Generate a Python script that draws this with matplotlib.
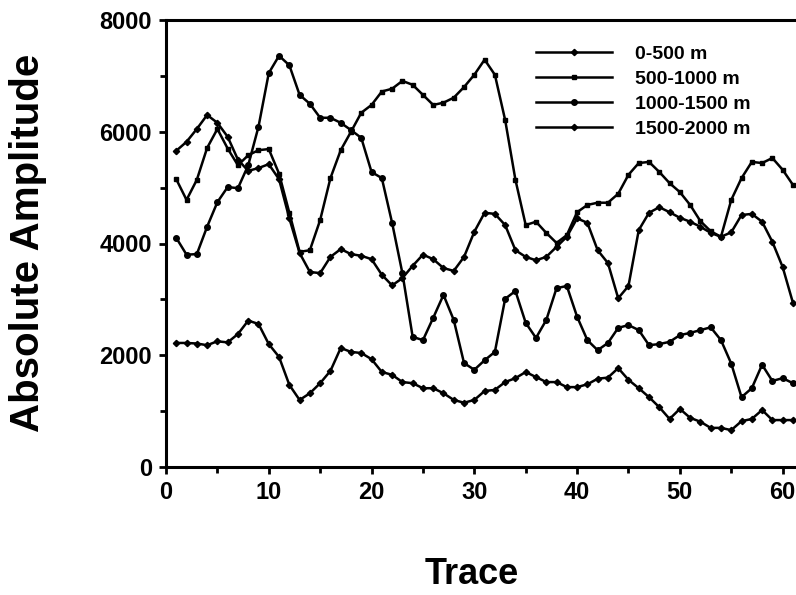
import matplotlib
matplotlib.use("Agg")
import matplotlib.pyplot as plt
from matplotlib.ticker import MultipleLocator

plt.rcParams['font.family'] = ['Liberation Sans', 'DejaVu Sans']
plt.rcParams['font.weight'] = 'bold'

# trace numbers
trace = list(range(1, 62))

# absolute amplitude per depth window
amp_0_500 = [5660, 5820, 6050, 6300, 6160, 5910, 5500, 5300, 5350, 5420,
             5150, 4450, 3830, 3490, 3470, 3760, 3900, 3810, 3780, 3720,
             3440, 3250, 3380, 3600, 3800, 3720, 3560, 3510, 3760, 4210,
             4550, 4530, 4330, 3880, 3760, 3700, 3760, 3940, 4120, 4450,
             4370, 3880, 3650, 3020, 3240, 4240, 4550, 4650, 4560, 4460,
             4390, 4300, 4190, 4120, 4200, 4510, 4530, 4390, 4030, 3580,
             2940]
amp_500_1000 = [5150, 4780, 5140, 5710, 6050, 5700, 5400, 5580, 5670, 5690,
                5250, 4550, 3850, 3880, 4420, 5170, 5670, 6000, 6340, 6480,
                6720, 6770, 6910, 6840, 6660, 6480, 6520, 6610, 6800, 7020,
                7290, 7020, 6210, 5140, 4330, 4390, 4190, 4010, 4150, 4560,
                4690, 4730, 4730, 4890, 5230, 5440, 5460, 5280, 5080, 4920,
                4690, 4400, 4220, 4120, 4780, 5170, 5460, 5440, 5530, 5320,
                5050]
amp_1000_1500 = [4100, 3800, 3810, 4300, 4740, 5010, 4990, 5400, 6090, 7050,
                 7360, 7190, 6660, 6500, 6250, 6250, 6160, 6030, 5890, 5280,
                 5170, 4370, 3470, 2330, 2270, 2670, 3080, 2630, 1860, 1740,
                 1910, 2060, 3010, 3150, 2580, 2310, 2630, 3200, 3240, 2690,
                 2270, 2090, 2220, 2490, 2540, 2450, 2180, 2200, 2240, 2360,
                 2400, 2450, 2500, 2270, 1850, 1250, 1410, 1830, 1540, 1590,
                 1500]
amp_1500_2000 = [2220, 2220, 2210, 2180, 2250, 2230, 2380, 2620, 2560, 2200,
                 1970, 1470, 1200, 1320, 1500, 1720, 2130, 2060, 2040, 1930,
                 1700, 1650, 1520, 1500, 1410, 1410, 1320, 1200, 1150, 1200,
                 1360, 1380, 1520, 1590, 1700, 1610, 1520, 1520, 1430, 1430,
                 1480, 1580, 1600, 1770, 1560, 1410, 1250, 1070, 860, 1040,
                 880, 810, 700, 700, 660, 820, 860, 1020, 840, 840,
                 840]

labels = ['0-500 m', '500-1000 m', '1000-1500 m', '1500-2000 m']
series = [amp_0_500, amp_500_1000, amp_1000_1500, amp_1500_2000]
markers = ['D', 's', 'o', 'D']
msizes = [3.2, 3.5, 4, 3.2]

fig = plt.figure(figsize=(7.96, 5.95), dpi=100)
ax = fig.add_axes([166/796, 1 - 467/595, 1 - 166/796, (467 - 20)/595])

for vals, lab, mk, ms in zip(series, labels, markers, msizes):
    ax.plot(trace, vals, color='black', linewidth=1.8, marker=mk,
            markersize=ms, label=lab)

ax.set_xlim(0, 61.3)
ax.set_ylim(0, 8000)
ax.xaxis.set_major_locator(MultipleLocator(10))
ax.xaxis.set_minor_locator(MultipleLocator(5))
ax.yaxis.set_major_locator(MultipleLocator(2000))
ax.yaxis.set_minor_locator(MultipleLocator(1000))
ax.tick_params(axis='both', which='major', direction='out', length=5,
               width=2, labelsize=17, pad=5)
ax.tick_params(axis='both', which='minor', direction='out', length=4,
               width=2)
for lbl in ax.get_xticklabels() + ax.get_yticklabels():
    lbl.set_fontweight('bold')

for side in ['left', 'bottom', 'top']:
    ax.spines[side].set_linewidth(2.2)
ax.spines['right'].set_visible(False)

fig.text(28/796, 1 - 243/595, 'Absolute Amplitude', rotation=90,
         ha='center', va='center', fontsize=29, fontweight='bold')
fig.text(472/796, 1 - 575/595, 'Trace', ha='center', va='center',
         fontsize=26, fontweight='bold')

leg = ax.legend(loc='upper left', bbox_to_anchor=(536/796, 1 - 45/595),
                bbox_transform=fig.transFigure, frameon=False,
                borderpad=0, borderaxespad=0, handlelength=3.9,
                handletextpad=1.2, labelspacing=0.38,
                prop={'size': 14, 'weight': 'bold'})

plt.savefig("out.png", dpi=100)
plt.close()
